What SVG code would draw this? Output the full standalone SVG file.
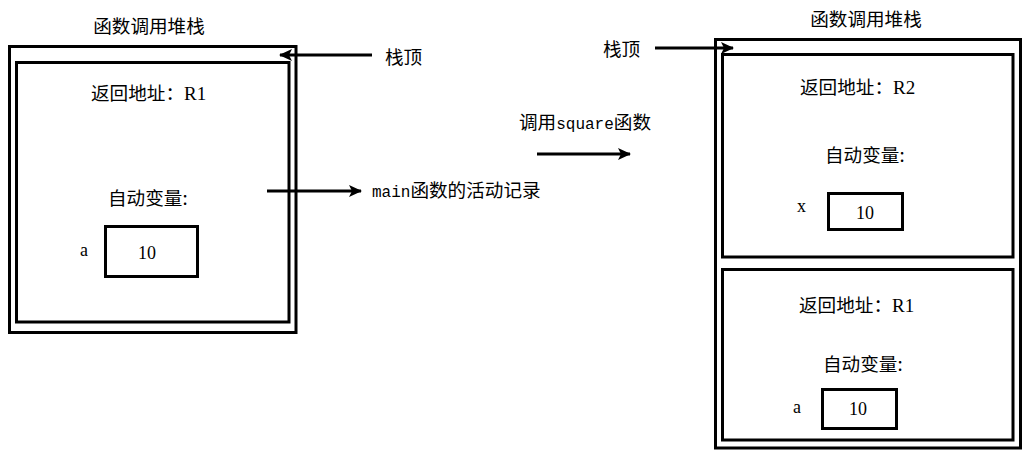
<svg xmlns="http://www.w3.org/2000/svg" width="1027" height="457" viewBox="0 0 1027 457">
<style>
.frame{fill:none;stroke:#000;stroke-width:3}
.t{font-family:"Noto Sans CJK SC","Liberation Serif",sans-serif;font-size:18.6px;fill:#000}
.s{font-family:"Liberation Serif",serif;font-size:19px}
.m{font-family:"Liberation Mono",monospace;font-size:16px}
.v{font-family:"Liberation Serif",serif;font-size:18px;fill:#000}
.c{stroke:#000;stroke-width:3;fill:none}
</style>
<defs>
<marker id="ah" markerUnits="userSpaceOnUse" markerWidth="13" markerHeight="12" refX="12" refY="6" orient="auto">
<path d="M0,0 L13,6 L0,12 L3,6 z" fill="#000"/>
</marker>
</defs>
<rect width="1027" height="457" fill="#fff"/>

<g id="left-stack">
<text class="t" x="149" y="33" text-anchor="middle">函数调用堆栈</text>
<rect class="frame" x="9.5" y="46.5" width="286.5" height="286"/>
</g>
<g id="left-main-record">
<rect class="frame" x="16.5" y="62.5" width="272.5" height="259.5"/>
<text class="t" x="91" y="100">返回地址：<tspan class="s">R1</tspan></text>
<text class="t" x="108" y="205">自动变量:</text>
<text class="v" x="80" y="256">a</text>
<rect class="frame" x="105.5" y="226.5" width="92" height="50"/>
<text class="v" x="147" y="259" text-anchor="middle">10</text>
</g>
<g id="left-top-label">
<text class="t" x="385" y="64">栈顶</text>
</g>
<g id="main-label">
<text class="t" x="372" y="197"><tspan class="m">main</tspan>函数的活动记录</text>
</g>
<g id="call-label">
<text class="t" x="519" y="129">调用<tspan class="m">square</tspan>函数</text>
</g>

<g id="right-stack">
<text class="t" x="866" y="26" text-anchor="middle">函数调用堆栈</text>
<rect class="frame" x="715.5" y="39.5" width="305" height="408.5"/>
</g>
<g id="right-top-label">
<text class="t" x="603" y="56">栈顶</text>
</g>
<g id="square-record">
<rect class="frame" x="722.5" y="54.5" width="290.5" height="202.5"/>
<text class="t" x="800" y="94">返回地址：<tspan class="s">R2</tspan></text>
<text class="t" x="825" y="162">自动变量:</text>
<text class="v" x="797" y="212">x</text>
<rect class="frame" x="828.5" y="193.5" width="74" height="36"/>
<text class="v" x="865" y="219" text-anchor="middle">10</text>
</g>
<g id="main-record">
<rect class="frame" x="722.5" y="269.5" width="290.5" height="170.5"/>
<text class="t" x="799" y="312">返回地址：<tspan class="s">R1</tspan></text>
<text class="t" x="823" y="371">自动变量:</text>
<text class="v" x="793" y="413">a</text>
<rect class="frame" x="822.5" y="389.5" width="74" height="39"/>
<text class="v" x="858" y="415" text-anchor="middle">10</text>
</g>

<g id="connectors">
<line class="c" x1="372" y1="55" x2="280" y2="55" marker-end="url(#ah)"/>
<line class="c" x1="267" y1="191" x2="361" y2="191" marker-end="url(#ah)"/>
<line class="c" x1="537" y1="154" x2="630" y2="154" marker-end="url(#ah)"/>
<line class="c" x1="655" y1="48" x2="733" y2="48" marker-end="url(#ah)"/>
</g>
</svg>
